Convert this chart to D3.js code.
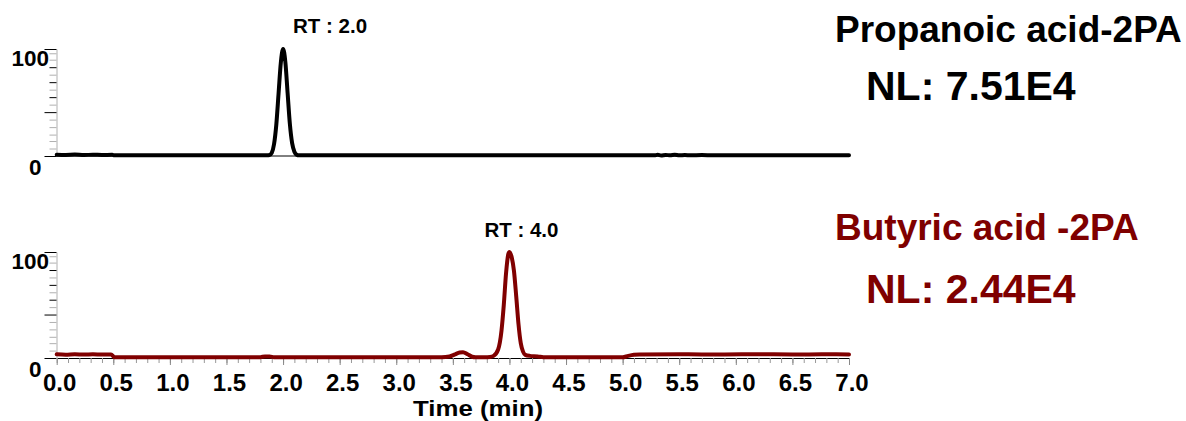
<!DOCTYPE html>
<html>
<head>
<meta charset="utf-8">
<script src="https://cdn.jsdelivr.net/npm/d3@7"></script>
<style>
  html, body { margin: 0; padding: 0; background: #fff; }
  svg { display: block; }
  text { font-family: "Liberation Sans", Arial, sans-serif; font-weight: bold; }
</style>
</head>
<body>
<svg id="chart" width="1186" height="421"></svg>
<script>
// Extracted ion chromatograms, relative abundance (%) vs retention time (min)
const propTime = [0.00, 0.08, 0.16, 0.24, 0.32, 0.40, 0.49, 0.51, 1.00, 1.50, 1.86, 1.88, 1.90, 1.92, 1.94, 1.96, 1.98, 2.00, 2.02, 2.04, 2.06, 2.08, 2.10, 2.12, 2.14, 3.00, 4.00, 5.00, 5.28, 5.31, 5.34, 5.38, 5.42, 5.46, 5.50, 5.55, 5.60, 5.70, 5.80, 6.00, 6.50, 7.00];
const propInt  = [1.2, 1.0, 1.3, 0.9, 1.2, 1.0, 1.1, 0.6, 0.6, 0.6, 0.7, 0.9, 3, 11, 29, 58, 87, 100, 88, 59, 30, 12, 4, 1.2, 0.6, 0.6, 0.6, 0.6, 0.6, 1.1, 0.5, 1.0, 0.6, 1.1, 0.6, 1.0, 0.6, 0.9, 0.6, 0.7, 0.7, 0.7];

const butTime = [0.00, 0.08, 0.16, 0.24, 0.32, 0.40, 0.48, 0.51, 1.00, 1.50, 1.80, 1.84, 1.88, 1.92, 1.96, 2.50, 3.00, 3.40, 3.47, 3.52, 3.56, 3.59, 3.63, 3.67, 3.70, 3.78, 3.83, 3.86, 3.90, 3.93, 3.95, 3.97, 3.99, 4.00, 4.02, 4.04, 4.06, 4.08, 4.10, 4.12, 4.14, 4.18, 4.25, 4.30, 4.60, 5.00, 5.05, 5.10, 5.15, 5.50, 5.90, 6.20, 6.50, 6.80, 7.00];
const butInt  = [3.5, 3.1, 3.6, 3.2, 3.5, 3.3, 3.4, 0.7, 0.6, 0.6, 0.8, 1.5, 1.4, 0.8, 0.6, 0.6, 0.6, 0.7, 1.4, 3.5, 5.2, 5.5, 3.6, 1.2, 0.7, 0.7, 1.0, 2.0, 8, 26, 50, 80, 98, 100, 95, 82, 58, 32, 14, 6, 3, 2, 1.5, 0.7, 0.6, 0.7, 2.0, 3.0, 3.4, 3.5, 3.3, 3.6, 3.3, 3.5, 3.4];

const xMajorTicks = [0.0, 0.5, 1.0, 1.5, 2.0, 2.5, 3.0, 3.5, 4.0, 4.5, 5.0, 5.5, 6.0, 6.5, 7.0];
const yLongTicks  = [0, 41, 100];
const yDarkTicks  = [55, 69, 83];
const yLightTicks = [7, 14, 20, 27, 34, 48, 62, 76, 90, 96];

const panels = [
  { name: "Propanoic acid-2PA", nl: "NL: 7.51E4", rt: "RT : 2.0", rtTime: 2.0, rtShift: 47,
    time: propTime, value: propInt, color: "#000000", textColor: "#000000",
    y0: 156, y100: 49, titleY: 41.5, nlY: 100, rtY: 32.5, xLabels: false },
  { name: "Butyric acid -2PA", nl: "NL: 2.44E4", rt: "RT : 4.0", rtTime: 4.0, rtShift: 12,
    time: butTime, value: butInt, color: "#800000", textColor: "#7f0000",
    y0: 358, y100: 252, titleY: 240, nlY: 303, rtY: 237, xLabels: true }
];

const svg = d3.select("#chart");
const x = d3.scaleLinear().domain([0, 7]).range([56.7, 849]);

panels.forEach(p => {
  const y = d3.scaleLinear().domain([0, 100]).range([p.y0, p.y100]);
  const g = svg.append("g");
  const ax = Math.round(x(0)) - 0.5;

  // y axis: light minor ticks, darker mid ticks, long ticks at 0 / 100
  const yAxisG = g.append("g").attr("transform", `translate(${ax},0)`);
  yAxisG.call(d3.axisLeft(y).tickValues(yLightTicks).tickSize(7).tickSizeOuter(0).tickFormat(""))
    .call(a => a.select(".domain").attr("stroke", "#b0b0b0"))
    .call(a => a.selectAll(".tick line").attr("stroke", "#b0b0b0"));
  yAxisG.append("g").call(d3.axisLeft(y).tickValues(yDarkTicks).tickSize(7).tickFormat(""))
    .call(a => a.select(".domain").remove())
    .call(a => a.selectAll(".tick line").attr("stroke", "#000"));
  yAxisG.append("g").call(d3.axisLeft(y).tickValues(yLongTicks).tickSize(12).tickFormat(""))
    .call(a => a.select(".domain").remove())
    .call(a => a.selectAll(".tick line").attr("stroke", "#000"));

  g.append("text").attr("x", 49).attr("y", y(100) + 16.5)
    .attr("text-anchor", "end").attr("font-size", 22.5).text("100");
  g.append("text").attr("x", 41.5).attr("y", y(0) + 19)
    .attr("text-anchor", "end").attr("font-size", 22.5).text("0");

  // x axis
  if (p.xLabels) {
    const xg = g.append("g").attr("transform", `translate(0,${p.y0})`);
    xg.call(d3.axisBottom(x).tickValues(d3.range(0, 70.5, 1).map(v => v / 10)).tickSize(5).tickSizeOuter(0).tickFormat(""))
      .call(a => a.select(".domain").attr("stroke", "#000"))
      .call(a => a.selectAll(".tick line").attr("stroke", "#999"));
    xg.append("g").call(d3.axisBottom(x).tickValues(xMajorTicks).tickSize(7).tickPadding(9).tickFormat(d3.format(".1f")))
      .call(a => a.select(".domain").remove())
      .call(a => a.selectAll(".tick line").attr("stroke", "#888"))
      .call(a => a.selectAll(".tick text")
        .attr("font-size", 24).attr("fill", "#000").attr("dx", 2.5)
        .attr("font-family", "'Liberation Sans', Arial, sans-serif").attr("font-weight", "bold"));
  } else {
    g.append("line").attr("x1", x(0)).attr("x2", x(7))
      .attr("y1", y(0)).attr("y2", y(0)).attr("stroke", "#000").attr("stroke-width", 1);
  }

  // chromatogram trace
  const pts = p.time.map((t, i) => [t, p.value[i]]);
  g.append("path").datum(pts)
    .attr("fill", "none").attr("stroke", p.color).attr("stroke-width", 4)
    .attr("stroke-linejoin", "round").attr("stroke-linecap", "round")
    .attr("d", d3.line().x(d => x(d[0])).y(d => y(d[1])).curve(d3.curveMonotoneX));

  // retention time annotation
  g.append("text").attr("x", x(p.rtTime) + p.rtShift).attr("y", p.rtY)
    .attr("text-anchor", "middle").attr("font-size", 20.5).attr("fill", "#000").text(p.rt);

  // compound name and normalisation level
  g.append("text").attr("x", 835).attr("y", p.titleY)
    .attr("font-size", 37).attr("fill", p.textColor).text(p.name);
  g.append("text").attr("x", 866).attr("y", p.nlY)
    .attr("font-size", 41).attr("fill", p.textColor).text(p.nl);
});

svg.append("text").attr("x", 413).attr("y", 416)
  .attr("font-size", 21.5).attr("textLength", 130).attr("lengthAdjust", "spacingAndGlyphs")
  .text("Time (min)");
</script>
</body>
</html>
